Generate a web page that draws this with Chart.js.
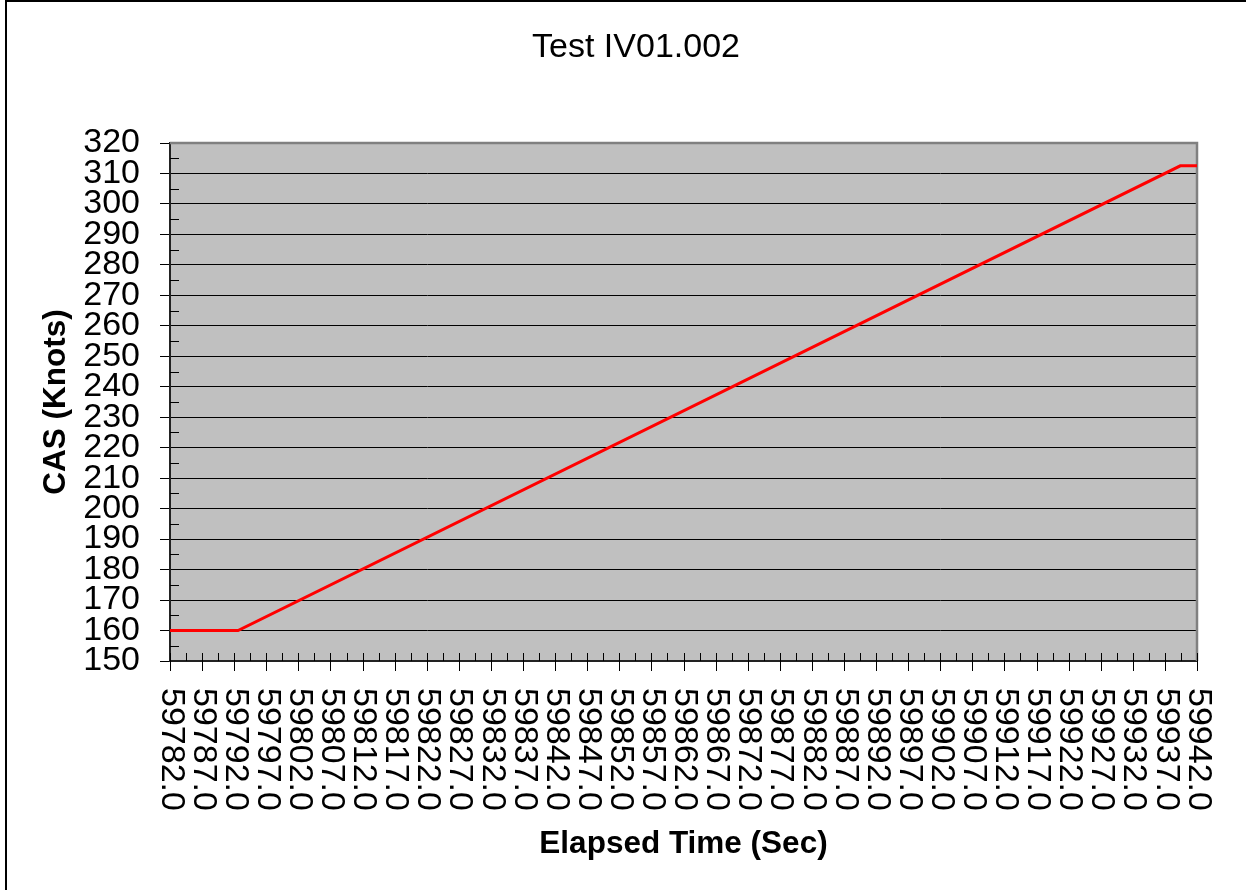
<!DOCTYPE html>
<html>
<head>
<meta charset="utf-8">
<title>Test IV01.002</title>
<script src="https://cdn.jsdelivr.net/npm/chart.js@4.4.0/dist/chart.umd.min.js"></script>
<style>
  html,body{margin:0;padding:0;background:#fff;overflow:hidden}
  #frame{position:absolute;left:5px;top:0;width:1241px;height:890px;box-sizing:border-box;border-left:2px solid #000;border-top:2px solid #000}
  #chart{position:absolute;left:0;top:0}
</style>
</head>
<body>
<div id="frame"></div>
<canvas id="chart" width="1246" height="890"></canvas>
<script>
// ----- data -----
const chartTitle = "Test IV01.002";
const xTitle = "Elapsed Time (Sec)";
const yTitle = "CAS (Knots)";

const timeSec  = [59782, 59792.6, 59939.4, 59942];
const casKnots = [160,   160,     312.5,   312.5];

const xTickLabels = [
  "59782.0","59787.0","59792.0","59797.0","59802.0","59807.0","59812.0","59817.0",
  "59822.0","59827.0","59832.0","59837.0","59842.0","59847.0","59852.0","59857.0",
  "59862.0","59867.0","59872.0","59877.0","59882.0","59887.0","59892.0","59897.0",
  "59902.0","59907.0","59912.0","59917.0","59922.0","59927.0","59932.0","59937.0",
  "59942.0"
];
const yMin = 150, yMax = 320, yStep = 10;

// ----- helpers -----
const FONT = '"Liberation Sans", Arial, sans-serif';
const xTickValues = xTickLabels.map(parseFloat);

// excel-ish plot area: grey fill, grey top/right frame, tick marks, rotated labels, titles
const excelLook = {
  id: "excelLook",
  beforeDraw(chart){
    const {ctx, chartArea:a} = chart;
    ctx.save();
    ctx.fillStyle = "#C0C0C0";
    ctx.fillRect(a.left, a.top, a.right - a.left, a.bottom - a.top);
    ctx.restore();
  },
  beforeDatasetsDraw(chart){
    const {ctx, chartArea:a, scales:{x, y}} = chart;
    ctx.save();
    // grey frame on top + right
    ctx.strokeStyle = "#808080";
    ctx.lineWidth = 2.5;
    ctx.beginPath();
    ctx.moveTo(a.left, a.top);
    ctx.lineTo(a.right, a.top);
    ctx.lineTo(a.right, a.bottom);
    ctx.stroke();

    ctx.strokeStyle = "#000";
    ctx.lineWidth = 1;
    ctx.beginPath();
    // x major ticks cross the axis, minor ones sit inside
    x.ticks.forEach((t, i) => {
      const px = Math.round(x.getPixelForValue(t.value)) + 0.5;
      ctx.moveTo(px, a.bottom - 8);
      ctx.lineTo(px, a.bottom + 10);
      if(i < x.ticks.length - 1){
        const mid = (t.value + x.ticks[i+1].value) / 2;
        const pm = Math.round(x.getPixelForValue(mid)) + 0.5;
        ctx.moveTo(pm, a.bottom - 8);
        ctx.lineTo(pm, a.bottom);
      }
    });
    // y minor ticks, inside
    for(let v = yMin + yStep/2; v < yMax; v += yStep){
      const py = Math.round(y.getPixelForValue(v)) + 0.5;
      ctx.moveTo(a.left, py);
      ctx.lineTo(a.left + 9, py);
    }
    ctx.stroke();
    ctx.restore();
  },
  afterDraw(chart){
    const {ctx, chartArea:a, scales:{x}} = chart;
    ctx.save();
    ctx.fillStyle = "#000";

    // x labels, turned clockwise (read top to bottom)
    ctx.font = "34px " + FONT;
    ctx.textAlign = "left";
    ctx.textBaseline = "middle";
    x.ticks.forEach((t, i) => {
      ctx.save();
      ctx.translate(x.getPixelForValue(t.value) + 1, 688);
      ctx.rotate(Math.PI / 2);
      ctx.fillText(xTickLabels[i], 0, 0);
      ctx.restore();
    });

    // chart title
    ctx.textAlign = "center";
    ctx.textBaseline = "alphabetic";
    ctx.font = "34px " + FONT;
    ctx.fillText(chartTitle, 636, 57);

    // axis titles
    ctx.font = "bold 31.5px " + FONT;
    ctx.fillText(xTitle, (a.left + a.right) / 2, 853);
    ctx.save();
    ctx.translate(65, (a.top + a.bottom) / 2);
    ctx.rotate(-Math.PI / 2);
    ctx.fillText(yTitle, 0, 0);
    ctx.restore();

    ctx.restore();
  }
};

new Chart(document.getElementById("chart"), {
  type: "line",
  data: {
    datasets: [{
      data: timeSec.map((t, i) => ({x: t, y: casKnots[i]})),
      borderColor: "#FF0000",
      borderWidth: 3,
      pointRadius: 0,
      tension: 0,
      fill: false
    }]
  },
  options: {
    responsive: false,
    animation: false,
    layout: { padding: { top: 143, right: 49, left: 0, bottom: 0 } },
    plugins: { legend: {display: false}, tooltip: {enabled: false}, title: {display: false} },
    scales: {
      x: {
        type: "linear",
        min: xTickValues[0],
        max: xTickValues[xTickValues.length - 1],
        afterBuildTicks: s => { s.ticks = xTickValues.map(v => ({value: v})); },
        afterFit: s => { s.height = 229; },
        ticks: { display: false },
        grid: { display: false },
        border: { display: true, color: "#222", width: 2 }
      },
      y: {
        min: yMin,
        max: yMax,
        afterFit: s => { s.width = 170; },
        ticks: {
          stepSize: yStep,
          autoSkip: false,
          color: "#000",
          padding: 20,
          font: { family: FONT, size: 34 }
        },
        grid: { color: "#000", lineWidth: 1, drawTicks: true, tickLength: 10, tickColor: "#000" },
        border: { display: true, color: "#222", width: 2 }
      }
    }
  },
  plugins: [excelLook]
});
</script>
</body>
</html>
